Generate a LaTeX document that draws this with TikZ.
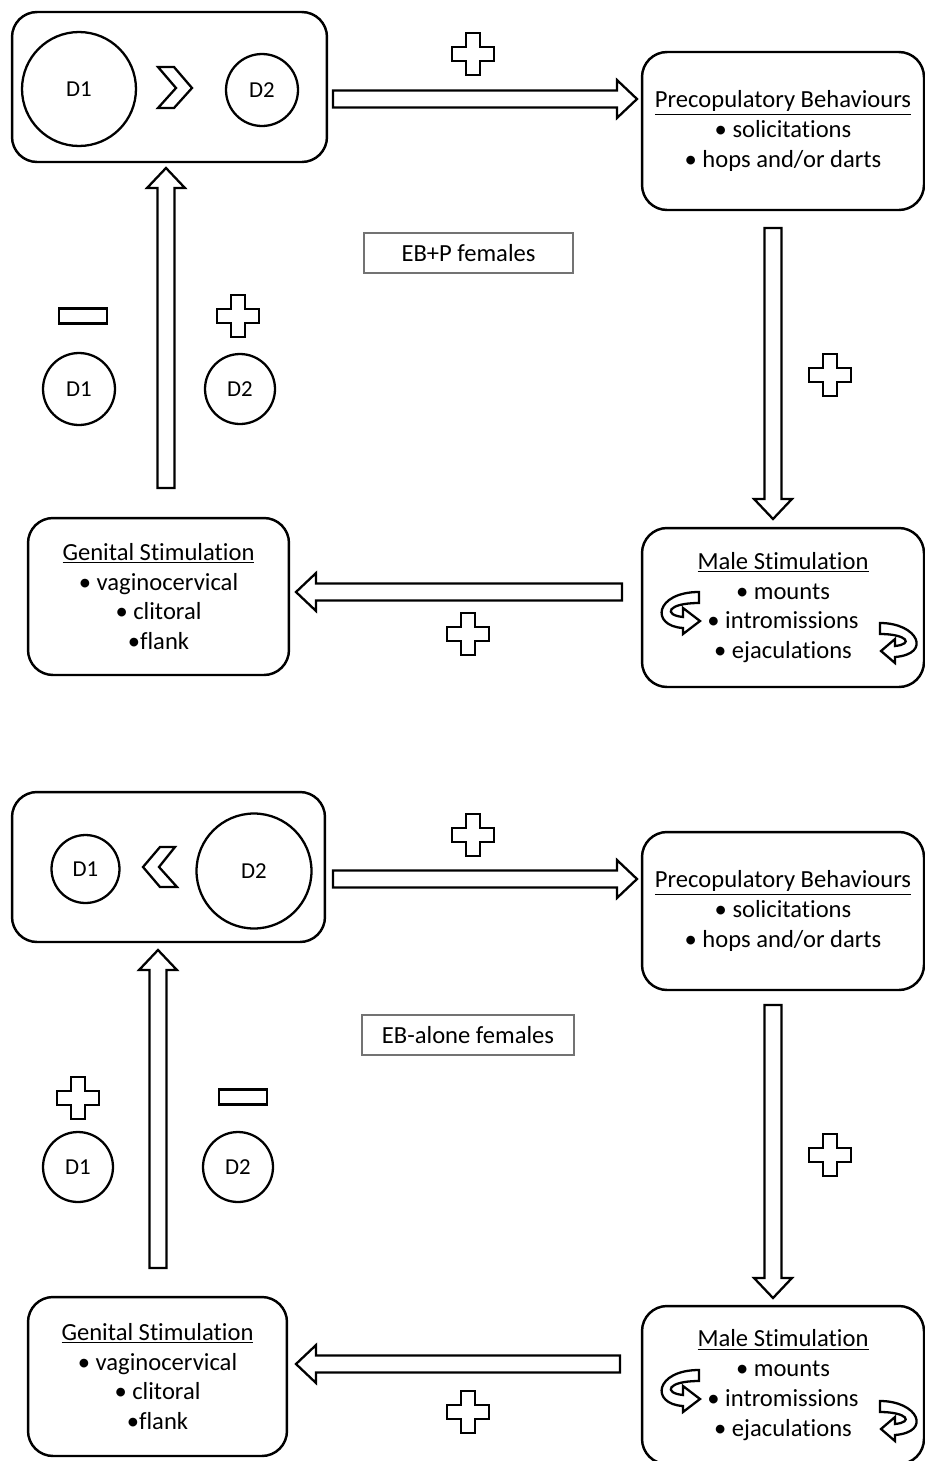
\documentclass[tikz,border=0pt]{standalone}
\usepackage{fontspec}
\setmainfont{Carlito}[Ligatures=NoCommon]
\usetikzlibrary{calc}

% hollow block arrow between two named points
\newcommand\fatarrow[2]{%
\coordinate (neck) at ($(#2)!11.4pt!(#1)$);
\draw[outlined] ($(#1)!4.8pt!90:(#2)$) -- ($(neck)!4.8pt!90:(#2)$) -- ($(neck)!10.8pt!90:(#2)$) -- (#2)
  -- ($(neck)!10.8pt!-90:(#2)$) -- ($(neck)!4.8pt!-90:(#2)$) -- ($(#1)!4.8pt!-90:(#2)$) -- cycle;}

\begin{document}
\begin{tikzpicture}[x=0.02cm,y=-0.02cm,
  panel/.style={draw,line width=1.4pt,rounded corners=0.5cm,align=center,font=\fontsize{14}{17}\selectfont},
  disc/.style={draw,circle,line width=1.3pt,inner sep=0pt,font=\fontsize{13}{15}\selectfont},
  grouptag/.style={draw=black!55,line width=0.6pt,font=\fontsize{14}{17}\selectfont},
  outlined/.style={draw,line width=1.3pt,line join=miter,fill=white},
  plusmark/.pic={\draw[outlined] (-7,-21) -- (7,-21) -- (7,-7) -- (21,-7) -- (21,7) -- (7,7) -- (7,21) -- (-7,21) -- (-7,7) -- (-21,7) -- (-21,-7) -- (-7,-7) -- cycle;},
  minusmark/.pic={\draw[outlined] (-24,-7.5) rectangle (24,7.5);}]
\useasboundingbox (0,0) rectangle (925,1461);

% EB+P females
\node[panel,minimum width=6.3cm,minimum height=3cm] (ratio1) at (169.5,87) {};
\node[disc,minimum size=2.28cm] (d1a) at (79,89) {D1};
\node[disc,minimum size=1.44cm] (d2a) at (262,90) {D2};
\draw[outlined] (158,67) -- (174,67) -- (192,88) -- (174,108) -- (158,108) -- (176,88) -- cycle;

\node[panel,minimum width=5.64cm,minimum height=3.16cm] (precop1) at (783,131) {\underline{Precopulatory Behaviours}\\• solicitations\\• hops and/or darts};
\node[panel,minimum width=5.64cm,minimum height=3.18cm] (male1) at (783,607.5) {\underline{Male Stimulation}\\• mounts\\• intromissions\\• ejaculations};
\node[panel,minimum width=5.22cm,minimum height=3.14cm] (genital1) at (158.5,596.5) {\underline{Genital Stimulation}\\• vaginocervical\\• clitoral\\•flank};
\node[grouptag,minimum width=4.18cm,minimum height=0.8cm] (group1) at (468.5,253) {EB+P females};

\node[disc,minimum size=1.44cm] (d1b) at (79,389) {D1};
\node[disc,minimum size=1.4cm] (d2b) at (240,389) {D2};
\pic at (83,316) {minusmark};
\pic at (238,316) {plusmark};

\coordinate (r1s) at (333,99);
\coordinate (r1e) at (637,99);
\coordinate (v1s) at (773,228);
\coordinate (v1e) at (773,519);
\coordinate (l1s) at (622,592);
\coordinate (l1e) at (296,592);
\coordinate (u1s) at (166,488);
\coordinate (u1e) at (166,168);
\fatarrow{r1s}{r1e}
\fatarrow{v1s}{v1e}
\fatarrow{l1s}{l1e}
\fatarrow{u1s}{u1e}
\pic at (473,54) {plusmark};
\pic at (830,375) {plusmark};
\pic at (468,634) {plusmark};

\draw[outlined] (699,592) .. controls (655,592) and (650,626) .. (683,628) -- (683,634) -- (700,621) -- (683,608) -- (683,617) .. controls (663,615) and (667,603) .. (699,603) -- cycle;
\draw[outlined] (880,623) .. controls (918,623) and (932,654) .. (895,657) -- (895,663) -- (881,651) -- (895,639) -- (895,646) .. controls (914,644) and (907,634) .. (880,634) -- cycle;

% EB-alone females
\node[panel,minimum width=6.26cm,minimum height=3cm] (ratio2) at (168.5,867) {};
\node[disc,minimum size=1.36cm] (d1c) at (85.5,869) {D1};
\node[disc,minimum size=2.3cm] (d2c) at (254,871) {D2};
\draw[outlined] (175,847) -- (160,847) -- (143,867) -- (160,887) -- (177,887) -- (159,867) -- cycle;

\node[panel,minimum width=5.64cm,minimum height=3.16cm] (precop2) at (783,911) {\underline{Precopulatory Behaviours}\\• solicitations\\• hops and/or darts};
\node[panel,minimum width=5.64cm,minimum height=3.16cm] (male2) at (783,1385) {\underline{Male Stimulation}\\• mounts\\• intromissions\\• ejaculations};
\node[panel,minimum width=5.18cm,minimum height=3.18cm] (genital2) at (157.5,1376.5) {\underline{Genital Stimulation}\\• vaginocervical\\• clitoral\\•flank};
\node[grouptag,minimum width=4.24cm,minimum height=0.8cm] (group2) at (468,1035) {EB-alone females};

\node[disc,minimum size=1.4cm] (d1d) at (78,1167) {D1};
\node[disc,minimum size=1.4cm] (d2d) at (238,1167) {D2};
\pic at (78,1098) {plusmark};
\pic at (243,1097) {minusmark};

\coordinate (r2s) at (333,879);
\coordinate (r2e) at (637,879);
\coordinate (v2s) at (773,1005);
\coordinate (v2e) at (773,1298);
\coordinate (l2s) at (620,1364);
\coordinate (l2e) at (296,1364);
\coordinate (u2s) at (158,1268);
\coordinate (u2e) at (158,950);
\fatarrow{r2s}{r2e}
\fatarrow{v2s}{v2e}
\fatarrow{l2s}{l2e}
\fatarrow{u2s}{u2e}
\pic at (473,835) {plusmark};
\pic at (830,1155) {plusmark};
\pic at (468,1412) {plusmark};

\draw[outlined] (699,1370) .. controls (655,1370) and (650,1404) .. (683,1406) -- (683,1412) -- (700,1399) -- (683,1386) -- (683,1395) .. controls (663,1393) and (667,1381) .. (699,1381) -- cycle;
\draw[outlined] (880,1401) .. controls (918,1401) and (932,1432) .. (895,1435) -- (895,1441) -- (881,1429) -- (895,1417) -- (895,1424) .. controls (914,1422) and (907,1412) .. (880,1412) -- cycle;

\end{tikzpicture}
\end{document}
